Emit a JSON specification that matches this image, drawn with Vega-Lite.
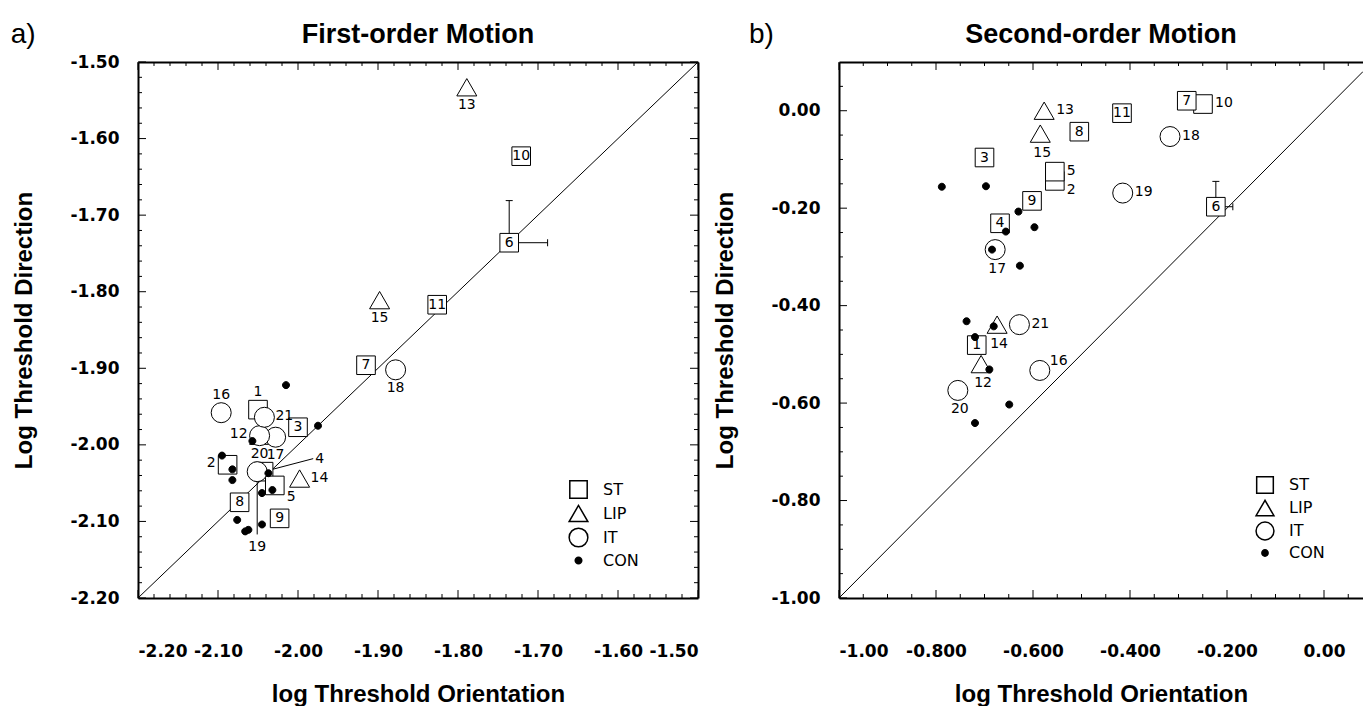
{
  "$schema": "https://vega.github.io/schema/vega-lite/v6.json",
  "padding": {"left": 10, "top": 20, "right": 0, "bottom": 0},
  "bounds": "flush",
  "spacing": 141,
  "config": {
    "view": {"stroke": null},
    "axis": {"labelFont": "DejaVu Sans", "labelFontWeight": "bold", "labelFontSize": 17, "labelColor": "black", "titleFont": "Liberation Sans", "titleFontWeight": "bold", "titleFontSize": 24, "titleColor": "black", "domainColor": "black", "domainWidth": 2, "ticks": false, "grid": false, "labelOverlap": false},
    "legend": {"labelFont": "DejaVu Sans", "labelFontSize": 16, "labelColor": "black"}
  },
  "datasets": {
    "pts": [
      {"panel": "a", "id": "1", "group": "ST", "x": -2.050, "y": -1.954},
      {"panel": "a", "id": "2", "group": "ST", "x": -2.088, "y": -2.026},
      {"panel": "a", "id": "3", "group": "ST", "x": -2.000, "y": -1.977},
      {"panel": "a", "id": "4", "group": "ST", "x": -2.043, "y": -2.035},
      {"panel": "a", "id": "5", "group": "ST", "x": -2.029, "y": -2.053},
      {"panel": "a", "id": "6", "group": "ST", "x": -1.736, "y": -1.736},
      {"panel": "a", "id": "7", "group": "ST", "x": -1.915, "y": -1.896},
      {"panel": "a", "id": "8", "group": "ST", "x": -2.073, "y": -2.075},
      {"panel": "a", "id": "9", "group": "ST", "x": -2.023, "y": -2.096},
      {"panel": "a", "id": "10", "group": "ST", "x": -1.721, "y": -1.623},
      {"panel": "a", "id": "11", "group": "ST", "x": -1.826, "y": -1.817},
      {"panel": "a", "id": "12", "group": "LIP", "x": -2.048, "y": -1.988},
      {"panel": "a", "id": "13", "group": "LIP", "x": -1.789, "y": -1.533},
      {"panel": "a", "id": "14", "group": "LIP", "x": -1.998, "y": -2.044},
      {"panel": "a", "id": "15", "group": "LIP", "x": -1.898, "y": -1.811},
      {"panel": "a", "id": "16", "group": "IT", "x": -2.096, "y": -1.958},
      {"panel": "a", "id": "17", "group": "IT", "x": -2.028, "y": -1.990},
      {"panel": "a", "id": "18", "group": "IT", "x": -1.878, "y": -1.902},
      {"panel": "a", "id": "19", "group": "IT", "x": -2.051, "y": -2.035},
      {"panel": "a", "id": "20", "group": "IT", "x": -2.048, "y": -1.988},
      {"panel": "a", "id": "21", "group": "IT", "x": -2.042, "y": -1.964},
      {"panel": "a", "id": "", "group": "CON", "x": -2.015, "y": -1.922},
      {"panel": "a", "id": "", "group": "CON", "x": -1.975, "y": -1.975},
      {"panel": "a", "id": "", "group": "CON", "x": -2.057, "y": -1.995},
      {"panel": "a", "id": "", "group": "CON", "x": -2.095, "y": -2.014},
      {"panel": "a", "id": "", "group": "CON", "x": -2.082, "y": -2.032},
      {"panel": "a", "id": "", "group": "CON", "x": -2.082, "y": -2.046},
      {"panel": "a", "id": "", "group": "CON", "x": -2.037, "y": -2.037},
      {"panel": "a", "id": "", "group": "CON", "x": -2.045, "y": -2.063},
      {"panel": "a", "id": "", "group": "CON", "x": -2.032, "y": -2.059},
      {"panel": "a", "id": "", "group": "CON", "x": -2.076, "y": -2.098},
      {"panel": "a", "id": "", "group": "CON", "x": -2.066, "y": -2.113},
      {"panel": "a", "id": "", "group": "CON", "x": -2.062, "y": -2.111},
      {"panel": "a", "id": "", "group": "CON", "x": -2.045, "y": -2.104},
      {"panel": "b", "id": "1", "group": "ST", "x": -0.716, "y": -0.481},
      {"panel": "b", "id": "2", "group": "ST", "x": -0.555, "y": -0.144},
      {"panel": "b", "id": "3", "group": "ST", "x": -0.700, "y": -0.096},
      {"panel": "b", "id": "4", "group": "ST", "x": -0.668, "y": -0.231},
      {"panel": "b", "id": "5", "group": "ST", "x": -0.555, "y": -0.125},
      {"panel": "b", "id": "6", "group": "ST", "x": -0.223, "y": -0.197},
      {"panel": "b", "id": "8", "group": "ST", "x": -0.5045, "y": -0.043},
      {"panel": "b", "id": "9", "group": "ST", "x": -0.602, "y": -0.185},
      {"panel": "b", "id": "10", "group": "ST", "x": -0.2495, "y": 0.0137},
      {"panel": "b", "id": "11", "group": "ST", "x": -0.4165, "y": -0.005},
      {"panel": "b", "id": "7", "group": "ST", "x": -0.283, "y": 0.0205},
      {"panel": "b", "id": "12", "group": "LIP", "x": -0.707, "y": -0.520},
      {"panel": "b", "id": "13", "group": "LIP", "x": -0.577, "y": 0.000},
      {"panel": "b", "id": "14", "group": "LIP", "x": -0.674, "y": -0.439},
      {"panel": "b", "id": "15", "group": "LIP", "x": -0.585, "y": -0.047},
      {"panel": "b", "id": "16", "group": "IT", "x": -0.586, "y": -0.533},
      {"panel": "b", "id": "17", "group": "IT", "x": -0.678, "y": -0.285},
      {"panel": "b", "id": "18", "group": "IT", "x": -0.3175, "y": -0.053},
      {"panel": "b", "id": "19", "group": "IT", "x": -0.415, "y": -0.169},
      {"panel": "b", "id": "20", "group": "IT", "x": -0.755, "y": -0.574},
      {"panel": "b", "id": "21", "group": "IT", "x": -0.628, "y": -0.439},
      {"panel": "b", "id": "", "group": "CON", "x": -0.788, "y": -0.156},
      {"panel": "b", "id": "", "group": "CON", "x": -0.697, "y": -0.155},
      {"panel": "b", "id": "", "group": "CON", "x": -0.630, "y": -0.207},
      {"panel": "b", "id": "", "group": "CON", "x": -0.656, "y": -0.248},
      {"panel": "b", "id": "", "group": "CON", "x": -0.597, "y": -0.239},
      {"panel": "b", "id": "", "group": "CON", "x": -0.6845, "y": -0.285},
      {"panel": "b", "id": "", "group": "CON", "x": -0.627, "y": -0.318},
      {"panel": "b", "id": "", "group": "CON", "x": -0.737, "y": -0.432},
      {"panel": "b", "id": "", "group": "CON", "x": -0.681, "y": -0.4425},
      {"panel": "b", "id": "", "group": "CON", "x": -0.7196, "y": -0.4646},
      {"panel": "b", "id": "", "group": "CON", "x": -0.690, "y": -0.531},
      {"panel": "b", "id": "", "group": "CON", "x": -0.649, "y": -0.603},
      {"panel": "b", "id": "", "group": "CON", "x": -0.7196, "y": -0.641}
    ],
    "segs": [
      {"panel": "a", "id": "6", "kind": "v", "x": -1.736, "y": -1.736, "x2": -1.736, "y2": -1.681},
      {"panel": "a", "id": "6", "kind": "h", "x": -1.736, "y": -1.736, "x2": -1.688, "y2": -1.736},
      {"panel": "a", "id": "4", "kind": "leader", "x": -2.043, "y": -2.035, "x2": -1.981, "y2": -2.018},
      {"panel": "a", "id": "19", "kind": "leader", "x": -2.051, "y": -2.035, "x2": -2.051, "y2": -2.117},
      {"panel": "b", "id": "6", "kind": "v", "x": -0.223, "y": -0.197, "x2": -0.223, "y2": -0.145},
      {"panel": "b", "id": "6", "kind": "h", "x": -0.223, "y": -0.197, "x2": -0.188, "y2": -0.197}
    ],
    "diag": [
      {"panel": "a", "x": -2.2, "y": -2.2},
      {"panel": "a", "x": -1.5, "y": -1.5},
      {"panel": "b", "x": -1.0, "y": -1.0},
      {"panel": "b", "x": 0.0804, "y": 0.0804}
    ],
    "ticksA": [
      {"v": -2.2, "major": 1}, {"v": -2.18, "major": 0}, {"v": -2.16, "major": 0}, {"v": -2.14, "major": 0}, {"v": -2.12, "major": 0},
      {"v": -2.1, "major": 1}, {"v": -2.08, "major": 0}, {"v": -2.06, "major": 0}, {"v": -2.04, "major": 0}, {"v": -2.02, "major": 0},
      {"v": -2.0, "major": 1}, {"v": -1.98, "major": 0}, {"v": -1.96, "major": 0}, {"v": -1.94, "major": 0}, {"v": -1.92, "major": 0},
      {"v": -1.9, "major": 1}, {"v": -1.88, "major": 0}, {"v": -1.86, "major": 0}, {"v": -1.84, "major": 0}, {"v": -1.82, "major": 0},
      {"v": -1.8, "major": 1}, {"v": -1.78, "major": 0}, {"v": -1.76, "major": 0}, {"v": -1.74, "major": 0}, {"v": -1.72, "major": 0},
      {"v": -1.7, "major": 1}, {"v": -1.68, "major": 0}, {"v": -1.66, "major": 0}, {"v": -1.64, "major": 0}, {"v": -1.62, "major": 0},
      {"v": -1.6, "major": 1}, {"v": -1.58, "major": 0}, {"v": -1.56, "major": 0}, {"v": -1.54, "major": 0}, {"v": -1.52, "major": 0},
      {"v": -1.5, "major": 1}
    ],
    "ticksB": [
      {"v": -1.0, "major": 1}, {"v": -0.95, "major": 0}, {"v": -0.9, "major": 0}, {"v": -0.85, "major": 0},
      {"v": -0.8, "major": 1}, {"v": -0.75, "major": 0}, {"v": -0.7, "major": 0}, {"v": -0.65, "major": 0},
      {"v": -0.6, "major": 1}, {"v": -0.55, "major": 0}, {"v": -0.5, "major": 0}, {"v": -0.45, "major": 0},
      {"v": -0.4, "major": 1}, {"v": -0.35, "major": 0}, {"v": -0.3, "major": 0}, {"v": -0.25, "major": 0},
      {"v": -0.2, "major": 1}, {"v": -0.15, "major": 0}, {"v": -0.1, "major": 0}, {"v": -0.05, "major": 0},
      {"v": 0.0, "major": 1}, {"v": 0.05, "major": 0}
    ]
  },
  "resolve": {"scale": {"shape": "independent", "fill": "independent"}, "legend": {"shape": "independent", "fill": "independent"}},
  "hconcat": [
    {
      "width": 560,
      "height": 536,
      "resolve": {"axis": {"x": "independent", "y": "independent"}},
      "layer": [
        {
          "data": {"name": "diag"},
          "transform": [{"filter": "datum.panel == 'a'"}],
          "mark": {"type": "line", "color": "black", "strokeWidth": 1, "clip": true},
          "encoding": {
            "x": {"field": "x", "type": "quantitative", "scale": {"domain": [-2.2, -1.5], "nice": false, "zero": false},
              "axis": {"orient": "top", "labels": false, "title": null, "values": [-2.2, -1.5]}},
            "y": {"field": "y", "type": "quantitative", "scale": {"domain": [-2.2, -1.5], "nice": false, "zero": false},
              "axis": {"orient": "right", "labels": false, "title": null, "values": [-2.2, -1.5]}}
          }
        },
        {
          "data": {"name": "ticksA"},
          "transform": [{"filter": "datum.major == 1"}],
          "mark": {"type": "rule", "color": "black", "strokeWidth": 1},
          "encoding": {
            "x": {"field": "v", "type": "quantitative", "scale": {"domain": [-2.2, -1.5], "nice": false, "zero": false}, "axis": null},
            "y": {"datum": -2.2, "type": "quantitative", "scale": {"domain": [-2.2, -1.5], "nice": false, "zero": false}, "axis": null},
            "y2": {"datum": -2.1896}
          }
        },
        {
          "data": {"name": "ticksA"},
          "transform": [{"filter": "datum.major == 0"}],
          "mark": {"type": "rule", "color": "black", "strokeWidth": 1},
          "encoding": {
            "x": {"field": "v", "type": "quantitative", "scale": {"domain": [-2.2, -1.5], "nice": false, "zero": false}, "axis": null},
            "y": {"datum": -2.2, "type": "quantitative", "scale": {"domain": [-2.2, -1.5], "nice": false, "zero": false}, "axis": null},
            "y2": {"datum": -2.1948}
          }
        },
        {
          "data": {"name": "ticksA"},
          "transform": [{"filter": "datum.major == 1"}],
          "mark": {"type": "rule", "color": "black", "strokeWidth": 1},
          "encoding": {
            "x": {"field": "v", "type": "quantitative", "scale": {"domain": [-2.2, -1.5], "nice": false, "zero": false}, "axis": null},
            "y": {"datum": -1.5, "type": "quantitative", "scale": {"domain": [-2.2, -1.5], "nice": false, "zero": false}, "axis": null},
            "y2": {"datum": -1.5104}
          }
        },
        {
          "data": {"name": "ticksA"},
          "transform": [{"filter": "datum.major == 0"}],
          "mark": {"type": "rule", "color": "black", "strokeWidth": 1},
          "encoding": {
            "x": {"field": "v", "type": "quantitative", "scale": {"domain": [-2.2, -1.5], "nice": false, "zero": false}, "axis": null},
            "y": {"datum": -1.5, "type": "quantitative", "scale": {"domain": [-2.2, -1.5], "nice": false, "zero": false}, "axis": null},
            "y2": {"datum": -1.5052}
          }
        },
        {
          "data": {"name": "ticksA"},
          "transform": [{"filter": "datum.major == 1"}],
          "mark": {"type": "rule", "color": "black", "strokeWidth": 1},
          "encoding": {
            "y": {"field": "v", "type": "quantitative", "scale": {"domain": [-2.2, -1.5], "nice": false, "zero": false}, "axis": null},
            "x": {"datum": -2.2, "type": "quantitative", "scale": {"domain": [-2.2, -1.5], "nice": false, "zero": false}, "axis": null},
            "x2": {"datum": -2.19}
          }
        },
        {
          "data": {"name": "ticksA"},
          "transform": [{"filter": "datum.major == 0"}],
          "mark": {"type": "rule", "color": "black", "strokeWidth": 1},
          "encoding": {
            "y": {"field": "v", "type": "quantitative", "scale": {"domain": [-2.2, -1.5], "nice": false, "zero": false}, "axis": null},
            "x": {"datum": -2.2, "type": "quantitative", "scale": {"domain": [-2.2, -1.5], "nice": false, "zero": false}, "axis": null},
            "x2": {"datum": -2.195}
          }
        },
        {
          "data": {"name": "ticksA"},
          "transform": [{"filter": "datum.major == 1"}],
          "mark": {"type": "rule", "color": "black", "strokeWidth": 1},
          "encoding": {
            "y": {"field": "v", "type": "quantitative", "scale": {"domain": [-2.2, -1.5], "nice": false, "zero": false}, "axis": null},
            "x": {"datum": -1.5, "type": "quantitative", "scale": {"domain": [-2.2, -1.5], "nice": false, "zero": false}, "axis": null},
            "x2": {"datum": -1.51}
          }
        },
        {
          "data": {"name": "ticksA"},
          "transform": [{"filter": "datum.major == 0"}],
          "mark": {"type": "rule", "color": "black", "strokeWidth": 1},
          "encoding": {
            "y": {"field": "v", "type": "quantitative", "scale": {"domain": [-2.2, -1.5], "nice": false, "zero": false}, "axis": null},
            "x": {"datum": -1.5, "type": "quantitative", "scale": {"domain": [-2.2, -1.5], "nice": false, "zero": false}, "axis": null},
            "x2": {"datum": -1.505}
          }
        },
        {
          "data": {"name": "segs"},
          "transform": [{"filter": "datum.panel == 'a'"}],
          "mark": {"type": "rule", "color": "black", "strokeWidth": 1},
          "encoding": {
            "x": {"field": "x", "type": "quantitative", "scale": {"domain": [-2.2, -1.5], "nice": false, "zero": false}, "axis": null},
            "y": {"field": "y", "type": "quantitative", "scale": {"domain": [-2.2, -1.5], "nice": false, "zero": false}, "axis": null},
            "x2": {"field": "x2"},
            "y2": {"field": "y2"}
          }
        },
        {
          "data": {"name": "segs"},
          "transform": [{"filter": "datum.panel == 'a' && datum.kind == 'v'"}],
          "mark": {"type": "tick", "orient": "horizontal", "size": 7, "thickness": 1, "color": "black", "opacity": 1},
          "encoding": {
            "x": {"field": "x", "type": "quantitative", "scale": {"domain": [-2.2, -1.5], "nice": false, "zero": false}, "axis": null},
            "y": {"field": "y2", "type": "quantitative", "scale": {"domain": [-2.2, -1.5], "nice": false, "zero": false}, "axis": null}
          }
        },
        {
          "data": {"name": "segs"},
          "transform": [{"filter": "datum.panel == 'a' && datum.kind == 'h'"}],
          "mark": {"type": "tick", "orient": "vertical", "size": 7, "thickness": 1, "color": "black", "opacity": 1},
          "encoding": {
            "x": {"field": "x2", "type": "quantitative", "scale": {"domain": [-2.2, -1.5], "nice": false, "zero": false}, "axis": null},
            "y": {"field": "y", "type": "quantitative", "scale": {"domain": [-2.2, -1.5], "nice": false, "zero": false}, "axis": null}
          }
        },
        {
          "data": {"name": "pts"},
          "transform": [{"filter": "datum.panel == 'a'"}],
          "mark": {"type": "point", "filled": true, "stroke": "black", "strokeWidth": 1, "opacity": 1, "size": 400},
          "encoding": {
            "x": {"field": "x", "type": "quantitative", "scale": {"domain": [-2.2, -1.5], "nice": false, "zero": false},
              "axis": {"orient": "bottom", "title": "log Threshold Orientation", "titlePadding": 23, "labelPadding": 45,
                "values": [-2.2, -2.1, -2.0, -1.9, -1.8, -1.7, -1.6, -1.5],
                "labelExpr": "replace(format(datum.value, '.2f'), '\u2212', '-')"}},
            "y": {"field": "y", "type": "quantitative", "scale": {"domain": [-2.2, -1.5], "nice": false, "zero": false},
              "axis": {"orient": "left", "title": "Log Threshold Direction", "titlePadding": 34, "labelPadding": 19,
                "values": [-2.2, -2.1, -2.0, -1.9, -1.8, -1.7, -1.6, -1.5],
                "labelExpr": "replace(format(datum.value, '.2f'), '\u2212', '-')"}},
            "shape": {"field": "group", "type": "nominal", "scale": {"domain": ["ST", "LIP", "IT", "CON"], "range": ["M-0.93,-0.93H0.93V0.93H-0.93Z", "triangle-up", "circle", "M0,-0.35A0.35,0.35 0 1,1 0,0.35A0.35,0.35 0 1,1 0,-0.35Z"]},
              "legend": {"orient": "none", "legendX": 430, "legendY": 417, "title": null, "labelOffset": 14, "rowPadding": 0, "symbolSize": 350,
                "encode": {"symbols": {"update": {"stroke": {"value": "black"}, "strokeWidth": {"value": 1}}}}}},
            "fill": {"field": "group", "type": "nominal", "scale": {"domain": ["ST", "LIP", "IT", "CON"], "range": ["white", "white", "white", "black"]},
              "legend": {"orient": "none", "legendX": 430, "legendY": 417, "title": null, "labelOffset": 14, "rowPadding": 0, "symbolSize": 350,
                "encode": {"symbols": {"update": {"stroke": {"value": "black"}, "strokeWidth": {"value": 1}}}}}}
          }
        },
        {
          "data": {"name": "pts"},
          "transform": [{"filter": "datum.panel == 'a' && datum.group == 'ST' && indexof(['1','2','4','5'], datum.id) < 0"}],
          "mark": {"type": "text", "font": "DejaVu Sans", "fontSize": 14, "align": "center", "baseline": "middle"},
          "encoding": {
            "x": {"field": "x", "type": "quantitative", "scale": {"domain": [-2.2, -1.5], "nice": false, "zero": false}, "axis": null},
            "y": {"field": "y", "type": "quantitative", "scale": {"domain": [-2.2, -1.5], "nice": false, "zero": false}, "axis": null},
            "text": {"field": "id"}
          }
        },
        {
          "data": {"name": "pts"},
          "transform": [{"filter": "datum.panel == 'a' && indexof(['1','16'], datum.id) >= 0"}],
          "mark": {"type": "text", "font": "DejaVu Sans", "fontSize": 14, "align": "center", "baseline": "middle", "dy": -18},
          "encoding": {
            "x": {"field": "x", "type": "quantitative", "scale": {"domain": [-2.2, -1.5], "nice": false, "zero": false}, "axis": null},
            "y": {"field": "y", "type": "quantitative", "scale": {"domain": [-2.2, -1.5], "nice": false, "zero": false}, "axis": null},
            "text": {"field": "id"}
          }
        },
        {
          "data": {"name": "pts"},
          "transform": [{"filter": "datum.panel == 'a' && indexof(['2','12'], datum.id) >= 0"}],
          "mark": {"type": "text", "font": "DejaVu Sans", "fontSize": 14, "align": "right", "baseline": "middle", "dx": -12, "dy": -2},
          "encoding": {
            "x": {"field": "x", "type": "quantitative", "scale": {"domain": [-2.2, -1.5], "nice": false, "zero": false}, "axis": null},
            "y": {"field": "y", "type": "quantitative", "scale": {"domain": [-2.2, -1.5], "nice": false, "zero": false}, "axis": null},
            "text": {"field": "id"}
          }
        },
        {
          "data": {"name": "pts"},
          "transform": [{"filter": "datum.panel == 'a' && indexof(['13','15','18','20','17'], datum.id) >= 0"}],
          "mark": {"type": "text", "font": "DejaVu Sans", "fontSize": 14, "align": "center", "baseline": "middle", "dy": 18},
          "encoding": {
            "x": {"field": "x", "type": "quantitative", "scale": {"domain": [-2.2, -1.5], "nice": false, "zero": false}, "axis": null},
            "y": {"field": "y", "type": "quantitative", "scale": {"domain": [-2.2, -1.5], "nice": false, "zero": false}, "axis": null},
            "text": {"field": "id"}
          }
        },
        {
          "data": {"name": "pts"},
          "transform": [{"filter": "datum.panel == 'a' && indexof(['14','21'], datum.id) >= 0"}],
          "mark": {"type": "text", "font": "DejaVu Sans", "fontSize": 14, "align": "left", "baseline": "middle", "dx": 11, "dy": -1},
          "encoding": {
            "x": {"field": "x", "type": "quantitative", "scale": {"domain": [-2.2, -1.5], "nice": false, "zero": false}, "axis": null},
            "y": {"field": "y", "type": "quantitative", "scale": {"domain": [-2.2, -1.5], "nice": false, "zero": false}, "axis": null},
            "text": {"field": "id"}
          }
        },
        {
          "data": {"name": "pts"},
          "transform": [{"filter": "datum.panel == 'a' && datum.id == '5'"}],
          "mark": {"type": "text", "font": "DejaVu Sans", "fontSize": 14, "align": "left", "baseline": "middle", "dx": 12, "dy": 12},
          "encoding": {
            "x": {"field": "x", "type": "quantitative", "scale": {"domain": [-2.2, -1.5], "nice": false, "zero": false}, "axis": null},
            "y": {"field": "y", "type": "quantitative", "scale": {"domain": [-2.2, -1.5], "nice": false, "zero": false}, "axis": null},
            "text": {"field": "id"}
          }
        },
        {
          "data": {"name": "segs"},
          "transform": [{"filter": "datum.panel == 'a' && datum.id == '4'"}],
          "mark": {"type": "text", "font": "DejaVu Sans", "fontSize": 14, "align": "left", "baseline": "middle", "dx": 2},
          "encoding": {
            "x": {"field": "x2", "type": "quantitative", "scale": {"domain": [-2.2, -1.5], "nice": false, "zero": false}, "axis": null},
            "y": {"field": "y2", "type": "quantitative", "scale": {"domain": [-2.2, -1.5], "nice": false, "zero": false}, "axis": null},
            "text": {"field": "id"}
          }
        },
        {
          "data": {"name": "segs"},
          "transform": [{"filter": "datum.panel == 'a' && datum.id == '19'"}],
          "mark": {"type": "text", "font": "DejaVu Sans", "fontSize": 14, "align": "center", "baseline": "middle", "dy": 13},
          "encoding": {
            "x": {"field": "x2", "type": "quantitative", "scale": {"domain": [-2.2, -1.5], "nice": false, "zero": false}, "axis": null},
            "y": {"field": "y2", "type": "quantitative", "scale": {"domain": [-2.2, -1.5], "nice": false, "zero": false}, "axis": null},
            "text": {"field": "id"}
          }
        },
        {
          "data": {"values": [{}]},
          "mark": {"type": "text", "font": "Liberation Sans", "fontSize": 28, "align": "left", "baseline": "middle"},
          "encoding": {
            "x": {"datum": -2.359, "type": "quantitative", "scale": {"domain": [-2.2, -1.5], "nice": false, "zero": false}, "axis": null},
            "y": {"datum": -1.4647, "type": "quantitative", "scale": {"domain": [-2.2, -1.5], "nice": false, "zero": false}, "axis": null},
            "text": {"value": "a)"}
          }
        },
        {
          "data": {"values": [{}]},
          "mark": {"type": "text", "font": "Liberation Sans", "fontWeight": "bold", "fontSize": 27, "align": "center", "baseline": "middle"},
          "encoding": {
            "x": {"datum": -1.85, "type": "quantitative", "scale": {"domain": [-2.2, -1.5], "nice": false, "zero": false}, "axis": null},
            "y": {"datum": -1.4647, "type": "quantitative", "scale": {"domain": [-2.2, -1.5], "nice": false, "zero": false}, "axis": null},
            "text": {"value": "First-order Motion"}
          }
        }
      ]
    },
    {
      "width": 524,
      "height": 536,
      "resolve": {"axis": {"x": "independent", "y": "independent"}},
      "layer": [
        {
          "data": {"name": "diag"},
          "transform": [{"filter": "datum.panel == 'b'"}],
          "mark": {"type": "line", "color": "black", "strokeWidth": 1, "clip": true},
          "encoding": {
            "x": {"field": "x", "type": "quantitative", "scale": {"domain": [-1, 0.0804], "nice": false, "zero": false},
              "axis": {"orient": "top", "labels": false, "title": null, "values": [-1, 0]}},
            "y": {"field": "y", "type": "quantitative", "scale": {"domain": [-1, 0.1], "nice": false, "zero": false}, "axis": null}
          }
        },
        {
          "data": {"name": "ticksB"},
          "transform": [{"filter": "datum.major == 1"}],
          "mark": {"type": "rule", "color": "black", "strokeWidth": 1},
          "encoding": {
            "x": {"field": "v", "type": "quantitative", "scale": {"domain": [-1, 0.0804], "nice": false, "zero": false}, "axis": null},
            "y": {"datum": -1.0, "type": "quantitative", "scale": {"domain": [-1, 0.1], "nice": false, "zero": false}, "axis": null},
            "y2": {"datum": -0.9836}
          }
        },
        {
          "data": {"name": "ticksB"},
          "transform": [{"filter": "datum.major == 0"}],
          "mark": {"type": "rule", "color": "black", "strokeWidth": 1},
          "encoding": {
            "x": {"field": "v", "type": "quantitative", "scale": {"domain": [-1, 0.0804], "nice": false, "zero": false}, "axis": null},
            "y": {"datum": -1.0, "type": "quantitative", "scale": {"domain": [-1, 0.1], "nice": false, "zero": false}, "axis": null},
            "y2": {"datum": -0.9918}
          }
        },
        {
          "data": {"name": "ticksB"},
          "transform": [{"filter": "datum.major == 1"}],
          "mark": {"type": "rule", "color": "black", "strokeWidth": 1},
          "encoding": {
            "x": {"field": "v", "type": "quantitative", "scale": {"domain": [-1, 0.0804], "nice": false, "zero": false}, "axis": null},
            "y": {"datum": 0.1, "type": "quantitative", "scale": {"domain": [-1, 0.1], "nice": false, "zero": false}, "axis": null},
            "y2": {"datum": 0.0836}
          }
        },
        {
          "data": {"name": "ticksB"},
          "transform": [{"filter": "datum.major == 0"}],
          "mark": {"type": "rule", "color": "black", "strokeWidth": 1},
          "encoding": {
            "x": {"field": "v", "type": "quantitative", "scale": {"domain": [-1, 0.0804], "nice": false, "zero": false}, "axis": null},
            "y": {"datum": 0.1, "type": "quantitative", "scale": {"domain": [-1, 0.1], "nice": false, "zero": false}, "axis": null},
            "y2": {"datum": 0.0918}
          }
        },
        {
          "data": {"name": "ticksB"},
          "transform": [{"filter": "datum.major == 1"}],
          "mark": {"type": "rule", "color": "black", "strokeWidth": 1},
          "encoding": {
            "y": {"field": "v", "type": "quantitative", "scale": {"domain": [-1, 0.1], "nice": false, "zero": false}, "axis": null},
            "x": {"datum": -1.0, "type": "quantitative", "scale": {"domain": [-1, 0.0804], "nice": false, "zero": false}, "axis": null},
            "x2": {"datum": -0.9835}
          }
        },
        {
          "data": {"name": "ticksB"},
          "transform": [{"filter": "datum.major == 0"}],
          "mark": {"type": "rule", "color": "black", "strokeWidth": 1},
          "encoding": {
            "y": {"field": "v", "type": "quantitative", "scale": {"domain": [-1, 0.1], "nice": false, "zero": false}, "axis": null},
            "x": {"datum": -1.0, "type": "quantitative", "scale": {"domain": [-1, 0.0804], "nice": false, "zero": false}, "axis": null},
            "x2": {"datum": -0.9918}
          }
        },
        {
          "data": {"name": "segs"},
          "transform": [{"filter": "datum.panel == 'b'"}],
          "mark": {"type": "rule", "color": "black", "strokeWidth": 1},
          "encoding": {
            "x": {"field": "x", "type": "quantitative", "scale": {"domain": [-1, 0.0804], "nice": false, "zero": false}, "axis": null},
            "y": {"field": "y", "type": "quantitative", "scale": {"domain": [-1, 0.1], "nice": false, "zero": false}, "axis": null},
            "x2": {"field": "x2"},
            "y2": {"field": "y2"}
          }
        },
        {
          "data": {"name": "segs"},
          "transform": [{"filter": "datum.panel == 'b' && datum.kind == 'v'"}],
          "mark": {"type": "tick", "orient": "horizontal", "size": 7, "thickness": 1, "color": "black", "opacity": 1},
          "encoding": {
            "x": {"field": "x", "type": "quantitative", "scale": {"domain": [-1, 0.0804], "nice": false, "zero": false}, "axis": null},
            "y": {"field": "y2", "type": "quantitative", "scale": {"domain": [-1, 0.1], "nice": false, "zero": false}, "axis": null}
          }
        },
        {
          "data": {"name": "segs"},
          "transform": [{"filter": "datum.panel == 'b' && datum.kind == 'h'"}],
          "mark": {"type": "tick", "orient": "vertical", "size": 7, "thickness": 1, "color": "black", "opacity": 1},
          "encoding": {
            "x": {"field": "x2", "type": "quantitative", "scale": {"domain": [-1, 0.0804], "nice": false, "zero": false}, "axis": null},
            "y": {"field": "y", "type": "quantitative", "scale": {"domain": [-1, 0.1], "nice": false, "zero": false}, "axis": null}
          }
        },
        {
          "data": {"name": "pts"},
          "transform": [{"filter": "datum.panel == 'b'"}],
          "mark": {"type": "point", "filled": true, "stroke": "black", "strokeWidth": 1, "opacity": 1, "size": 400},
          "encoding": {
            "x": {"field": "x", "type": "quantitative", "scale": {"domain": [-1, 0.0804], "nice": false, "zero": false},
              "axis": {"orient": "bottom", "title": "log Threshold Orientation", "titlePadding": 23, "labelPadding": 45,
                "values": [-1, -0.8, -0.6, -0.4, -0.2, 0],
                "labelExpr": "replace(format(datum.value, (abs(datum.value) < 0.01 || datum.value < -0.99) ? '.2f' : '.3f'), '\u2212', '-')"}},
            "y": {"field": "y", "type": "quantitative", "scale": {"domain": [-1, 0.1], "nice": false, "zero": false},
              "axis": {"orient": "left", "title": "Log Threshold Direction", "titlePadding": 34, "labelPadding": 19,
                "values": [-1, -0.8, -0.6, -0.4, -0.2, 0],
                "labelExpr": "replace(format(datum.value, '.2f'), '\u2212', '-')"}},
            "shape": {"field": "group", "type": "nominal", "scale": {"domain": ["ST", "LIP", "IT", "CON"], "range": ["M-0.93,-0.93H0.93V0.93H-0.93Z", "triangle-up", "circle", "M0,-0.35A0.35,0.35 0 1,1 0,0.35A0.35,0.35 0 1,1 0,-0.35Z"]},
              "legend": {"orient": "none", "legendX": 416, "legendY": 413, "title": null, "labelOffset": 14, "rowPadding": 0, "symbolSize": 320,
                "encode": {"symbols": {"update": {"stroke": {"value": "black"}, "strokeWidth": {"value": 1}}}}}},
            "fill": {"field": "group", "type": "nominal", "scale": {"domain": ["ST", "LIP", "IT", "CON"], "range": ["white", "white", "white", "black"]},
              "legend": {"orient": "none", "legendX": 416, "legendY": 413, "title": null, "labelOffset": 14, "rowPadding": 0, "symbolSize": 320,
                "encode": {"symbols": {"update": {"stroke": {"value": "black"}, "strokeWidth": {"value": 1}}}}}}
          }
        },
        {
          "data": {"name": "pts"},
          "transform": [{"filter": "datum.panel == 'b' && datum.group == 'ST' && indexof(['2','5','10'], datum.id) < 0"}],
          "mark": {"type": "text", "font": "DejaVu Sans", "fontSize": 14, "align": "center", "baseline": "middle"},
          "encoding": {
            "x": {"field": "x", "type": "quantitative", "scale": {"domain": [-1, 0.0804], "nice": false, "zero": false}, "axis": null},
            "y": {"field": "y", "type": "quantitative", "scale": {"domain": [-1, 0.1], "nice": false, "zero": false}, "axis": null},
            "text": {"field": "id"}
          }
        },
        {
          "data": {"name": "pts"},
          "transform": [{"filter": "datum.panel == 'b' && indexof(['5','10','13','18','19','21'], datum.id) >= 0"}],
          "mark": {"type": "text", "font": "DejaVu Sans", "fontSize": 14, "align": "left", "baseline": "middle", "dx": 12, "dy": -1},
          "encoding": {
            "x": {"field": "x", "type": "quantitative", "scale": {"domain": [-1, 0.0804], "nice": false, "zero": false}, "axis": null},
            "y": {"field": "y", "type": "quantitative", "scale": {"domain": [-1, 0.1], "nice": false, "zero": false}, "axis": null},
            "text": {"field": "id"}
          }
        },
        {
          "data": {"name": "pts"},
          "transform": [{"filter": "datum.panel == 'b' && datum.id == '2'"}],
          "mark": {"type": "text", "font": "DejaVu Sans", "fontSize": 14, "align": "left", "baseline": "middle", "dx": 12, "dy": 9},
          "encoding": {
            "x": {"field": "x", "type": "quantitative", "scale": {"domain": [-1, 0.0804], "nice": false, "zero": false}, "axis": null},
            "y": {"field": "y", "type": "quantitative", "scale": {"domain": [-1, 0.1], "nice": false, "zero": false}, "axis": null},
            "text": {"field": "id"}
          }
        },
        {
          "data": {"name": "pts"},
          "transform": [{"filter": "datum.panel == 'b' && indexof(['12','14','15','17','20'], datum.id) >= 0"}],
          "mark": {"type": "text", "font": "DejaVu Sans", "fontSize": 14, "align": "center", "baseline": "middle", "dx": 2, "dy": 19},
          "encoding": {
            "x": {"field": "x", "type": "quantitative", "scale": {"domain": [-1, 0.0804], "nice": false, "zero": false}, "axis": null},
            "y": {"field": "y", "type": "quantitative", "scale": {"domain": [-1, 0.1], "nice": false, "zero": false}, "axis": null},
            "text": {"field": "id"}
          }
        },
        {
          "data": {"name": "pts"},
          "transform": [{"filter": "datum.panel == 'b' && datum.id == '16'"}],
          "mark": {"type": "text", "font": "DejaVu Sans", "fontSize": 14, "align": "left", "baseline": "middle", "dx": 10, "dy": -9},
          "encoding": {
            "x": {"field": "x", "type": "quantitative", "scale": {"domain": [-1, 0.0804], "nice": false, "zero": false}, "axis": null},
            "y": {"field": "y", "type": "quantitative", "scale": {"domain": [-1, 0.1], "nice": false, "zero": false}, "axis": null},
            "text": {"field": "id"}
          }
        },
        {
          "data": {"values": [{}]},
          "mark": {"type": "text", "font": "Liberation Sans", "fontSize": 28, "align": "left", "baseline": "middle"},
          "encoding": {
            "x": {"datum": -1.1856, "type": "quantitative", "scale": {"domain": [-1, 0.0804], "nice": false, "zero": false}, "axis": null},
            "y": {"datum": 0.1554, "type": "quantitative", "scale": {"domain": [-1, 0.1], "nice": false, "zero": false}, "axis": null},
            "text": {"value": "b)"}
          }
        },
        {
          "data": {"values": [{}]},
          "mark": {"type": "text", "font": "Liberation Sans", "fontWeight": "bold", "fontSize": 27, "align": "center", "baseline": "middle"},
          "encoding": {
            "x": {"datum": -0.46, "type": "quantitative", "scale": {"domain": [-1, 0.0804], "nice": false, "zero": false}, "axis": null},
            "y": {"datum": 0.1554, "type": "quantitative", "scale": {"domain": [-1, 0.1], "nice": false, "zero": false}, "axis": null},
            "text": {"value": "Second-order Motion"}
          }
        }
      ]
    }
  ]
}
